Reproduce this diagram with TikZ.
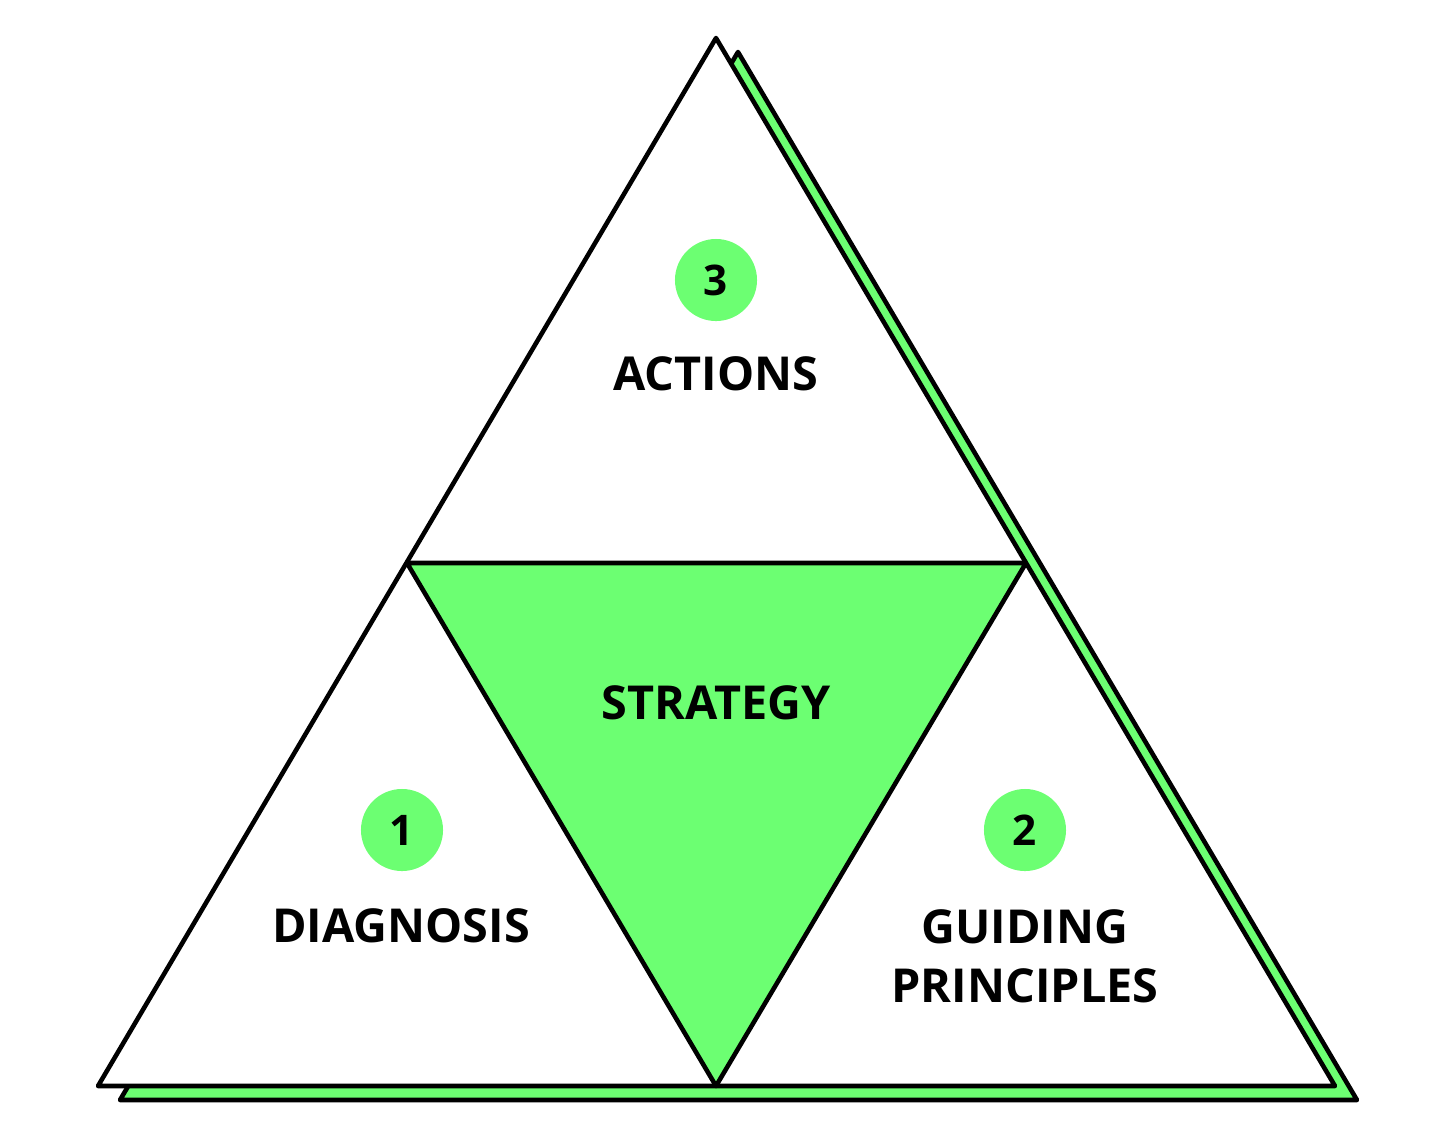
\documentclass[tikz,border=0pt]{standalone}
\usepackage{fontspec}
\setmainfont{Open Sans}
\definecolor{tgreen}{HTML}{6CFF72}
\begin{document}
\begin{tikzpicture}[x=0.01cm,y=-0.01cm]

\tikzstyle{edge}=[line width=1.3pt,line join=round];
\tikzstyle{num}=[circle,fill=tgreen,inner sep=0pt,minimum size=0.82cm,font=\fontsize{12}{14}\selectfont\bfseries];
\tikzstyle{lbl}=[font=\fontsize{13.3}{16.8}\selectfont\bfseries,align=center];

\useasboundingbox (0,0) rectangle (1456,1129);

\coordinate (t) at (716,38);
\coordinate (bl) at (98,1086);
\coordinate (br) at (1335,1086);
\coordinate (ml) at (407,563);
\coordinate (mr) at (1026,563);
\coordinate (mb) at (716,1086);
\coordinate (ts) at (738,52);
\coordinate (bls) at (120,1100);
\coordinate (brs) at (1357,1100);

% shadow
\draw[edge,fill=tgreen] (ts) -- (brs) -- (bls) -- cycle;
\draw[edge,fill=white] (t) -- (br) -- (bl) -- cycle;
\draw[edge,fill=tgreen] (ml) -- (mr) -- (mb) -- cycle;

\node[num] (n3) at (716,280) {3};
\node[lbl] (v3) at (716,374) {ACTIONS};
\node[lbl] (v0) at (716,703) {STRATEGY};
\node[num] (n1) at (402,830) {1};
\node[lbl] (v1) at (401,926) {DIAGNOSIS};
\node[num] (n2) at (1025,830) {2};
\node[lbl] (v2) at (1025,956) {GUIDING\\PRINCIPLES};
\end{tikzpicture}
\end{document}
